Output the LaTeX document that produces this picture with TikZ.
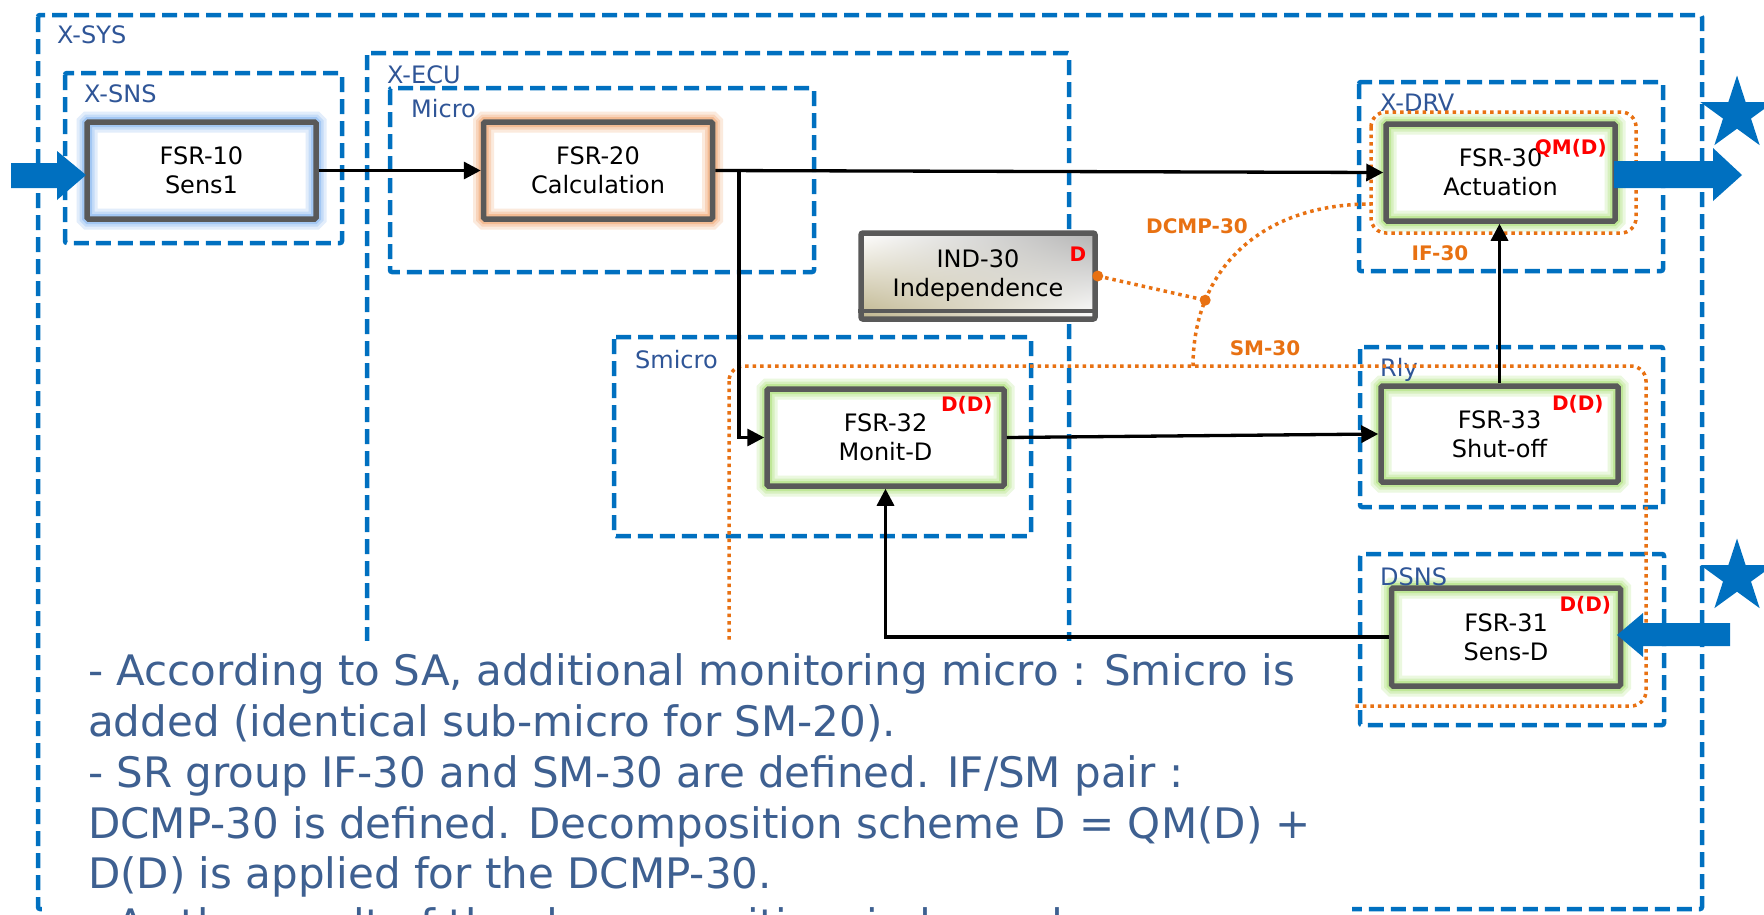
\documentclass[tikz,border=0pt]{standalone}
\usepackage{fontspec}
\setmainfont{DejaVu Sans}
\usetikzlibrary{arrows.meta,calc,shapes.geometric,shadings}
\definecolor{dblue}{RGB}{0,112,192}
\definecolor{lblue}{RGB}{47,85,151}
\definecolor{txtblue}{RGB}{62,96,145}
\definecolor{boxgray}{RGB}{89,89,89}
\definecolor{orng}{RGB}{232,113,18}
\definecolor{glowb}{RGB}{140,185,240}
\definecolor{glowo}{RGB}{240,170,120}
\definecolor{glowg}{RGB}{175,225,125}
\definecolor{beige}{RGB}{190,180,140}
\begin{document}
\begin{tikzpicture}[x=1pt,y=-1pt,
  cont/.style={draw=dblue, line width=4.5pt, dash pattern=on 15pt off 7pt, rounded corners=2pt},
  clabel/.style={anchor=west, text=lblue, font=\fontsize{24}{26}\selectfont, inner sep=0pt},
  fsr/.style={draw=boxgray, line width=5.5pt, minimum width=229pt, minimum height=97pt,
    align=center, inner sep=0pt, font=\fontsize{24}{29}\selectfont, rounded corners=1.5pt,
    preaction={fill=white}, preaction={draw=#1!25, line width=21pt},
    preaction={draw=#1!50, line width=15pt}, preaction={draw=#1!80, line width=10pt}},
  redl/.style={text=red, font=\bfseries\fontsize{20}{24}\selectfont, inner sep=0pt},
  olab/.style={text=orng, font=\bfseries\fontsize{20}{24}\selectfont, inner sep=0pt},
  odot/.style={draw=orng, line width=3.5pt, dash pattern=on 3.5pt off 4pt},
  conn/.style={line width=3.3pt, -{Triangle[length=17pt,width=17pt]}},
  barrow/.style={fill=dblue},
  bstar/.style={star, star points=5, star point ratio=2.618, fill=dblue, minimum size=77pt, inner sep=0pt},
  txt/.style={anchor=base west, text=txtblue, font=\fontsize{42}{51}\selectfont, inner sep=0pt}
]
\clip (0,0) rectangle (1764,914);
\fill[white] (0,0) rectangle (1764,914);

% containers
\draw[cont] (38,15) rectangle (1702,909);
\draw[cont] (65,73) rectangle (342,243);
\draw[cont] (367,53) rectangle (1069,760);
\draw[cont] (390,88) rectangle (814,272);
\draw[cont] (614,337) rectangle (1031,536);
\draw[cont] (1359,82) rectangle (1663,271);
\draw[cont] (1360,347) rectangle (1663,507);
\draw[cont] (1360,554) rectangle (1664,725);

% function boxes
\node[fsr=glowb] (fsr10) at (201.5,170.5) {FSR-10\\Sens1};
\node[fsr=glowo] (fsr20) at (598,170.5) {FSR-20\\Calculation};
\node[fsr=glowg] (fsr30) at (1500.5,172.5) {FSR-30\\Actuation};
\node[fsr=glowg, minimum width=237pt] (fsr32) at (885.5,437.5) {FSR-32\\Monit-D};
\node[fsr=glowg, minimum width=237pt, minimum height=96pt] (fsr33) at (1499.5,434) {FSR-33\\Shut-off};
\node[fsr=glowg, minimum height=98pt] (fsr31) at (1506,637) {FSR-31\\Sens-D};

% container labels
\node[clabel] (lsys) at (57,35) {X-SYS};
\node[clabel] (lsns) at (84,94) {X-SNS};
\node[clabel] (lecu) at (387,75) {X-ECU};
\node[clabel] (lmicro) at (411,109) {Micro};
\node[clabel] (lsmicro) at (635,360) {Smicro};
\node[clabel] (ldrv) at (1380,103) {X-DRV};
\node[clabel] (lrly) at (1380,370) {Rly};
\node[clabel] (ldsns) at (1380,577) {DSNS};

% independence box
\node[draw=boxgray, line width=5.5pt, rounded corners=2pt, minimum width=234pt, minimum height=86pt,
  upper left=white, upper right=gray!60, lower left=beige, lower right=white,
  align=center, inner sep=0pt, font=\fontsize{24}{29}\selectfont] (ind30) at (978,276)
  {\raisebox{5pt}{\parbox{200pt}{\centering IND-30\\Independence}}};
\draw[boxgray, line width=4.5pt] ($(ind30.south west)+(0,-11)$) -- ($(ind30.south east)+(0,-11)$);
\node[redl] (dind) at (1078,254) {D};

% IF-30 / SM-30 groups
\draw[odot, rounded corners=15pt] (1371,112) rectangle (1636,233);
\draw[odot, rounded corners=15pt] (729,366) rectangle (1646,706);
\node[olab] (lif) at (1440,253) {IF-30};
\node[olab] (lsm) at (1265,348) {SM-30};
\node[olab] (ldcmp) at (1197,226) {DCMP-30};
\coordinate (smtop) at (1193,366);
\coordinate (ifleft) at (1371,204);
\draw[odot] (smtop) .. controls (1193,270) and (1260,204) .. node[pos=0.25, coordinate] (j) {} (ifleft);
\draw[odot] (ind30.east) -- (j);
\fill[orng] (ind30.east) circle (5.5pt);
\fill[orng] (j) circle (5.5pt);

% connectors
\draw[conn] (fsr10.east) -- (fsr20.west);
\draw[conn] (fsr20.east) -- (fsr30.west);
\coordinate (br) at (739,171);
\draw[conn] (br) |- (fsr32.west);
\draw[conn] (fsr32.east) -- (fsr33.west);
\draw[conn] (fsr33.north) -- (fsr33.north |- fsr30.south);
\draw[conn] (fsr31.west) -| (fsr32.south);

% block arrows and stars
\fill[barrow] (11,163) -- (57,163) -- (57,151) -- (86,175) -- (57,200) -- (57,188) -- (11,188) -- cycle;
\fill[barrow] (1614,161) -- (1713,161) -- (1713,148) -- (1742,175) -- (1713,201) -- (1713,188) -- (1614,188) -- cycle;
\fill[barrow] (1730,623) -- (1643,623) -- (1643,613) -- (1617,635) -- (1643,657) -- (1643,646) -- (1730,646) -- cycle;
\node[bstar] (star1) at (1737,114) {};
\node[bstar] (star2) at (1737,577) {};

% red ASIL labels
\node[redl] (q30) at ($(fsr30.north east)+(-47,27)$) {QM(D)};
\node[redl] (d32) at ($(fsr32.north east)+(-40,19)$) {D(D)};
\node[redl] (d33) at ($(fsr33.north east)+(-43,21)$) {D(D)};
\node[redl] (d31) at ($(fsr31.north east)+(-38,20)$) {D(D)};

% text block
\fill[white] (47,641) rectangle (1352,920);
\node[txt] (t1) at (88,685) {- According to SA, additional monitoring micro : Smicro is};
\node[txt] (t2) at (88,736) {added (identical sub-micro for SM-20).};
\node[txt] (t3) at (88,787) {- SR group IF-30 and SM-30 are defined. IF/SM pair :};
\node[txt] (t4) at (88,838) {DCMP-30 is defined. Decomposition scheme D = QM(D) +};
\node[txt] (t5) at (88,888) {D(D) is applied for the DCMP-30.};
\node[txt] (t6) at (88,939) {- As the result of the decomposition, independence};
\end{tikzpicture}
\end{document}
